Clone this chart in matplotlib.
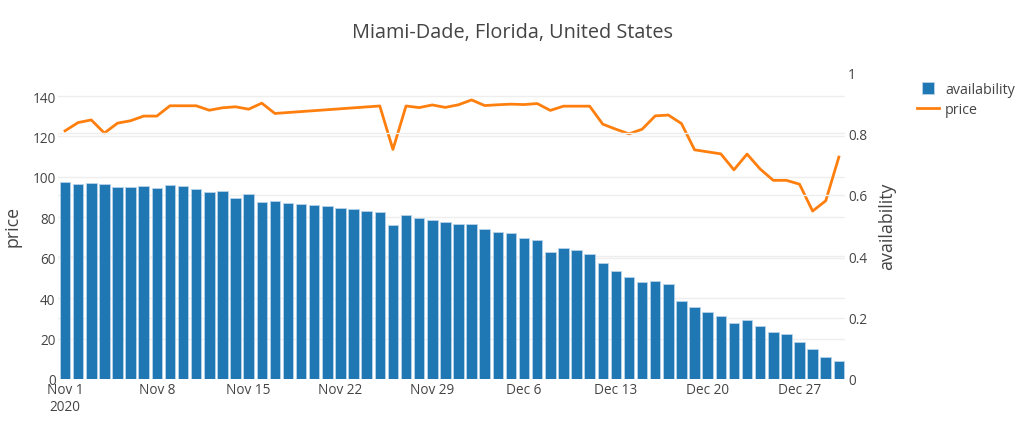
import numpy as np
import pandas as pd
import matplotlib
matplotlib.use("Agg")
import matplotlib.pyplot as plt
from matplotlib.lines import Line2D

plt.rcParams['font.family'] = ['Open Sans', 'DejaVu Sans']

# ============ DATA ============
start_date = "2020-11-01"

availability = [
    0.642, 0.636, 0.639, 0.634, 0.625, 0.626, 0.629, 0.622, 0.632, 0.628,
    0.618, 0.610, 0.612, 0.589, 0.603, 0.577, 0.580, 0.574, 0.571, 0.566,
    0.564, 0.557, 0.553, 0.548, 0.543, 0.503, 0.533, 0.524, 0.518, 0.510,
    0.504, 0.504, 0.488, 0.480, 0.474, 0.460, 0.452, 0.415, 0.428, 0.419,
    0.406, 0.377, 0.351, 0.333, 0.316, 0.318, 0.310, 0.255, 0.234, 0.218,
    0.204, 0.184, 0.191, 0.173, 0.154, 0.148, 0.122, 0.097, 0.071, 0.058,
]

# None = no price recorded that day (line just connects across)
price = [
    122.8, 126.9, 128.2, 121.7, 126.6, 127.8, 130.1, 130.1, 135.2, 135.2,
    135.2, 133.0, 134.2, 134.7, 133.5, 136.5, 131.4, None, None, None,
    None, None, None, None, 135.1, 113.6, 135.1, 134.3, 135.6, 134.4,
    135.7, 138.1, 135.3, 135.7, 136.0, 135.8, 136.3, 132.9, 135.0, 135.0,
    135.0, 126.1, 123.6, 121.3, 123.6, 130.2, 130.6, 126.4, 113.4, 112.4,
    111.4, 103.5, 111.3, 103.9, 98.3, 98.3, 96.4, 83.1, 88.2, 109.8,
]

dates = pd.date_range(start_date, periods=len(availability))

# ============ FIGURE ============
TEXT = '#444444'
GRID = '#eeeeee'

fig = plt.figure(figsize=(10.24, 4.39), dpi=100)
ax = fig.add_axes([0.0571, 0.1344, 0.7685, 0.6993])
ax2 = ax.twinx()

# bars on the right axis (availability), line on the left axis (price)
ax2.bar(dates, availability, width=0.8, color='#1f77b4',
        edgecolor='#b7d2e8', linewidth=0.6, zorder=2)

price_s = pd.Series(price, index=dates, dtype=float).dropna()
ax.plot(price_s.index, price_s.values, color='#ff7f0e', linewidth=2, zorder=3)

# axis ranges
price_max = price_s.max()
ax.set_ylim(0, price_max * 1.1)
ax2.set_ylim(0, 1)
ax.set_xlim(dates[0] - pd.Timedelta(hours=12), dates[-1] + pd.Timedelta(hours=12))

ax.set_yticks(np.arange(0, 141, 20))
ax2.set_yticks([0, 0.2, 0.4, 0.6, 0.8, 1])
ax2.set_yticklabels(['0', '0.2', '0.4', '0.6', '0.8', '1'])

# date ticks every 7 days
tick_dates = pd.date_range(start_date, dates[-1], freq='7D')
ax.set_xticks(tick_dates)
labels = [d.strftime('%b ') + str(d.day) for d in tick_dates]
labels[0] = labels[0] + '\n2020'
ax.set_xticklabels(labels)

# grids (behind the bars)
ax.grid(axis='y', color=GRID, linewidth=1, zorder=0)
ax2.grid(axis='y', color=GRID, linewidth=1, zorder=0)
ax2.set_axisbelow(True)
ax.set_axisbelow(True)
ax2.get_ygridlines()[-1].set_visible(False)
ax2.get_ygridlines()[0].set_visible(False)
ax.get_ygridlines()[0].set_visible(False)

for a in (ax, ax2):
    for s in a.spines.values():
        s.set_visible(False)
    a.tick_params(length=0, colors=TEXT, labelsize=9.8)
ax.tick_params(axis='y', pad=2)
ax2.tick_params(axis='y', pad=2)
ax.tick_params(axis='x', pad=2)
for t in ax.get_xticklabels():
    t.set_horizontalalignment('center')
    t.set_multialignment('center')

ax.set_ylabel('price', color=TEXT, fontsize=12.8, labelpad=8)
ax2.set_ylabel('availability', color=TEXT, fontsize=12.8, labelpad=8)

fig.suptitle('Miami-Dade, Florida, United States', x=0.5, y=0.948,
             color=TEXT, fontsize=14.3)

# legend
handles = [Line2D([0], [0], marker='s', linestyle='none', markersize=8,
                  markerfacecolor='#1f77b4', markeredgecolor='#b7d2e8',
                  markeredgewidth=0.6, label='availability'),
           Line2D([0], [0], color='#ff7f0e', linewidth=2, label='price')]
fig.legend(handles=handles, loc='upper left', bbox_to_anchor=(0.883, 0.84),
           frameon=False, fontsize=10.3, labelcolor=TEXT,
           handlelength=1.5, handletextpad=0.45, labelspacing=0.35)

fig.savefig('out.png', dpi=100)
